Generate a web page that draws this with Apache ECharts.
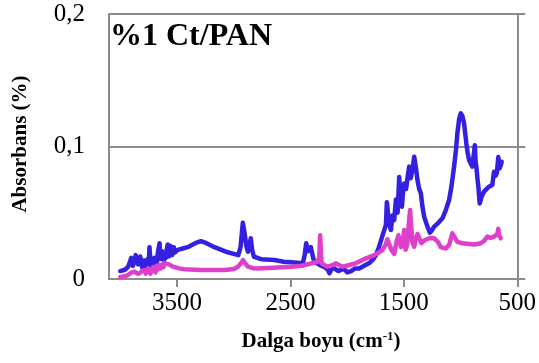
<!DOCTYPE html>
<html>
<head>
<meta charset="utf-8">
<script src="https://cdn.jsdelivr.net/npm/echarts@6/dist/echarts.min.js"></script>
<style>
  html, body { margin: 0; padding: 0; background: #fff; }
  #chart { width: 539px; height: 363px; }
</style>
</head>
<body>
<div id="chart"></div>
<script>
// FTIR absorbance spectra, wavenumber in cm-1 (axis runs high -> low)
const xTicks = [500, 1500, 2500, 3500];
const yTicks = [0, 0.1, 0.2];

// Blue spectrum
const blueWave = [4000, 3960, 3933, 3915, 3904, 3890, 3880, 3865, 3852, 3843, 3835, 3825, 3817, 3808, 3800, 3790, 3782,
  3770, 3760, 3750, 3743, 3735, 3730, 3720, 3710, 3700, 3690, 3680, 3672, 3665, 3654, 3647, 3640, 3632, 3625,
  3615, 3605, 3597, 3590, 3582, 3573, 3565, 3557, 3550, 3543, 3537, 3528, 3520, 3494, 3450, 3406, 3340, 3290,
  3240, 3170, 3069, 3000, 2960, 2940, 2920, 2905, 2889, 2875, 2860, 2850, 2838, 2822, 2790, 2757, 2640, 2560,
  2493, 2391, 2375, 2361, 2345, 2332, 2320, 2312, 2300, 2288, 2229, 2200, 2170, 2156, 2135, 2112, 2080, 2053,
  2030, 2000, 1965, 1930, 1893, 1850, 1805, 1770, 1746, 1720, 1702, 1680, 1658, 1650, 1640, 1625, 1614, 1600,
  1585, 1570, 1555, 1541, 1530, 1517, 1507, 1497, 1480, 1465, 1453, 1440, 1425, 1409, 1395, 1380, 1365, 1350,
  1336, 1321, 1292, 1271, 1250, 1233, 1200, 1160, 1130, 1101, 1080, 1057, 1040, 1028, 1012, 998, 984, 969, 949,
  937, 925, 910, 896, 880, 874, 867, 861, 850, 843, 831, 815, 793, 770, 749, 720, 705, 690, 680, 667, 660, 655,
  645, 637];
const blueAbs = [0.006, 0.007, 0.009, 0.013, 0.016, 0.010, 0.012, 0.018, 0.019, 0.011, 0.013, 0.017, 0.014, 0.009, 0.010, 0.014, 0.008,
  0.012, 0.015, 0.011, 0.024, 0.014, 0.012, 0.008, 0.013, 0.016, 0.010, 0.012, 0.018, 0.022, 0.027, 0.015, 0.016, 0.021, 0.019,
  0.014, 0.020, 0.016, 0.023, 0.026, 0.017, 0.019, 0.025, 0.024, 0.018, 0.021, 0.024, 0.020, 0.022, 0.023, 0.024, 0.027, 0.0285,
  0.027, 0.024, 0.0206, 0.019, 0.018, 0.024, 0.0425, 0.035, 0.025, 0.0206, 0.026, 0.0307, 0.022, 0.0168, 0.016, 0.0149, 0.0143, 0.013,
  0.0126, 0.0118, 0.018, 0.027, 0.021, 0.022, 0.024, 0.023, 0.016, 0.013, 0.010, 0.009, 0.007, 0.0043, 0.008, 0.008, 0.006, 0.0068,
  0.008, 0.005, 0.006, 0.008, 0.008, 0.010, 0.012, 0.015, 0.018, 0.024, 0.029, 0.035, 0.041, 0.058, 0.050, 0.040, 0.037, 0.048,
  0.0445, 0.060, 0.050, 0.077, 0.062, 0.0546, 0.066, 0.072, 0.068, 0.078, 0.0848, 0.076, 0.082, 0.0923, 0.085, 0.0747, 0.068, 0.0647,
  0.0546, 0.047, 0.0395, 0.035, 0.037, 0.0395, 0.042, 0.0458, 0.052, 0.0596, 0.070, 0.0848, 0.098, 0.110, 0.121, 0.125, 0.123, 0.1175, 0.1024,
  0.095, 0.0898, 0.087, 0.0848, 0.086, 0.101, 0.088, 0.0848, 0.075, 0.0697, 0.057, 0.062, 0.066, 0.068, 0.0697, 0.071, 0.081, 0.078, 0.080, 0.092, 0.086, 0.0835,
  0.086, 0.0885];

// Magenta spectrum
const pinkWave = [4000, 3960, 3933, 3900, 3875, 3850, 3831, 3810, 3787, 3775, 3765, 3755, 3745, 3735, 3725, 3712, 3700,
  3690, 3680, 3672, 3665, 3654, 3642, 3630, 3620, 3610, 3596, 3570, 3537, 3480, 3435, 3289, 3180, 3080, 3000,
  2963, 2935, 2919, 2900, 2875, 2830, 2787, 2650, 2493, 2400, 2317, 2259, 2246, 2238, 2230, 2224, 2190, 2171,
  2130, 2097, 2060, 2039, 1980, 1920, 1834, 1760, 1720, 1688, 1660, 1645, 1629, 1610, 1585, 1565, 1548, 1541,
  1525, 1510, 1497, 1485, 1470, 1453, 1445, 1435, 1425, 1409, 1395, 1380, 1365, 1345, 1321, 1306, 1270, 1233,
  1200, 1174, 1130, 1100, 1072, 1060, 1028, 984, 925, 880, 822, 790, 764, 735, 705, 690, 675, 667, 660, 646];
const pinkAbs = [0.0015, 0.002, 0.003, 0.005, 0.0055, 0.004, 0.0043, 0.006, 0.0068, 0.004, 0.005, 0.008, 0.008, 0.004, 0.006, 0.009, 0.008,
  0.005, 0.010, 0.007, 0.008, 0.0106, 0.008, 0.011, 0.009, 0.012, 0.013, 0.011, 0.0093, 0.008, 0.0073, 0.0068, 0.0068, 0.0068, 0.0075,
  0.0093, 0.012, 0.0143, 0.012, 0.0093, 0.0082, 0.008, 0.0085, 0.0093, 0.010, 0.0118, 0.013, 0.016, 0.033, 0.018, 0.0118, 0.010, 0.0093,
  0.0105, 0.0118, 0.010, 0.0093, 0.0106, 0.012, 0.0156, 0.018, 0.020, 0.022, 0.026, 0.030, 0.029, 0.022, 0.019, 0.028, 0.033, 0.032,
  0.024, 0.027, 0.037, 0.022, 0.026, 0.045, 0.052, 0.040, 0.028, 0.0244, 0.030, 0.034, 0.033, 0.027, 0.029, 0.028, 0.031, 0.0307,
  0.028, 0.024, 0.023, 0.026, 0.0345, 0.034, 0.028, 0.027, 0.0264, 0.026, 0.027, 0.029, 0.032, 0.031, 0.032, 0.033, 0.034, 0.038, 0.033, 0.0307];

const pair = (xs, ys) => xs.map((x, i) => [x, ys[i]]);

const GRAY = '#8c8c8c';
const SERIF = '"Liberation Serif", "Times New Roman", serif';

const chart = echarts.init(document.getElementById('chart'), null, { renderer: 'canvas' });

chart.setOption({
  animation: false,
  backgroundColor: '#ffffff',
  title: {
    text: '%1 Ct/PAN',
    left: 110,
    top: 21,
    padding: 0,
    textStyle: { fontFamily: SERIF, fontWeight: 'bold', fontSize: 32, color: '#000' }
  },
  grid: { left: 109, right: 20, top: 14, bottom: 84, containLabel: false },
  xAxis: {
    type: 'value',
    inverse: true,
    min: 500,
    max: 4100,
    interval: 1000,
    axisLine: { show: true, lineStyle: { color: GRAY, width: 2 } },
    axisTick: { show: true, inside: false, length: 8, customValues: xTicks, lineStyle: { color: GRAY, width: 2 } },
    axisLabel: {
      customValues: xTicks,
      margin: 12,
      fontFamily: SERIF, fontSize: 25, color: '#000',
      formatter: v => String(v)
    },
    splitLine: { show: false }
  },
  yAxis: [
    {
      type: 'value',
      position: 'left',
      min: 0, max: 0.2, interval: 0.1,
      axisLine: { show: true, lineStyle: { color: GRAY, width: 2 } },
      axisTick: { show: false },
      axisLabel: {
        customValues: yTicks,
        margin: 24,
        fontFamily: SERIF, fontSize: 25, color: '#000',
        formatter: v => String(Math.round(v * 10) / 10).replace('.', ',')
      },
      splitLine: { show: false }
    },
    {
      type: 'value',
      position: 'right',
      min: 0, max: 0.2, interval: 0.1,
      axisLine: { show: true, lineStyle: { color: GRAY, width: 2 } },
      axisTick: { show: true, inside: false, length: 8, lineStyle: { color: GRAY, width: 2 } },
      axisLabel: { show: false },
      splitLine: { show: true, lineStyle: { color: GRAY, width: 2 } }
    }
  ],
  graphic: [
    {
      type: 'text',
      x: 321, y: 342,
      style: {
        text: '{a|Dalga boyu (cm}{s|-1}{a|)}',
        align: 'center',
        verticalAlign: 'middle',
        rich: {
          a: { fontFamily: SERIF, fontWeight: 'bold', fontSize: 21, color: '#000', lineHeight: 24 },
          s: { fontFamily: SERIF, fontWeight: 'bold', fontSize: 13, color: '#000', verticalAlign: 'top', lineHeight: 24 }
        }
      }
    },
    {
      type: 'text',
      x: 21, y: 144,
      rotation: Math.PI / 2,
      style: {
        text: 'Absorbans (%)',
        align: 'center',
        verticalAlign: 'middle',
        fontFamily: SERIF, fontWeight: 'bold', fontSize: 21, fill: '#000'
      }
    }
  ],
  series: [
    {
      name: 'blue',
      type: 'line',
      xAxisIndex: 0, yAxisIndex: 0,
      data: pair(blueWave, blueAbs),
      showSymbol: false,
      lineStyle: { color: '#3420e0', width: 4.5, join: 'round', cap: 'round' },
      z: 3
    },
    {
      name: 'magenta',
      type: 'line',
      xAxisIndex: 0, yAxisIndex: 0,
      data: pair(pinkWave, pinkAbs),
      showSymbol: false,
      lineStyle: { color: '#de3fcb', width: 4.5, join: 'round', cap: 'round' },
      z: 4
    }
  ]
});
</script>
</body>
</html>
